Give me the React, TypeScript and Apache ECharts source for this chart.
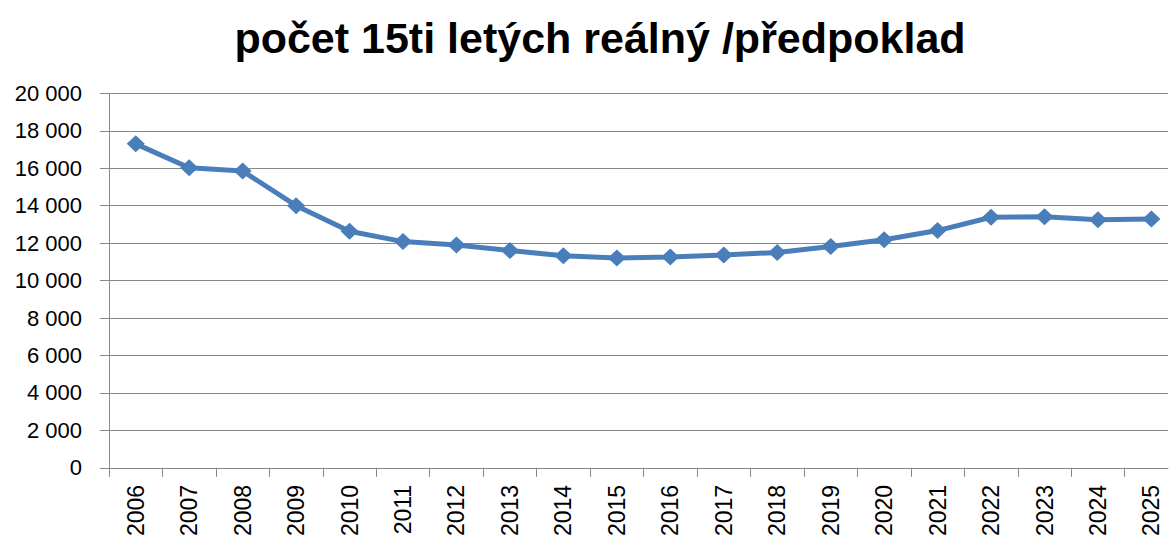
import React, { useEffect, useRef } from "react";
import * as echarts from "echarts";

const titleText = "počet 15ti letých reálný /předpoklad";
const years = ["2006","2007","2008","2009","2010","2011","2012","2013","2014","2015","2016","2017","2018","2019","2020","2021","2022","2023","2024","2025"];
const counts = [17300, 16020, 15850, 14000, 12630, 12080, 11900, 11600, 11330, 11210, 11260, 11370, 11500, 11820, 12180, 12670, 13380, 13410, 13250, 13290];
const yTicks = { min: 0, max: 20000, interval: 2000 };

const fmt = (v: number) => String(v).replace(/\B(?=(\d{3})+(?!\d))/g, " ");

export default function App() {
  const ref = useRef<HTMLDivElement>(null);
  useEffect(() => {
    document.body.style.margin = "0";
    if (!ref.current) return;
    const chart = echarts.init(ref.current, undefined, { renderer: "svg" });
    const idx = years.map((_, i) => i);
    const bounds = years.map((_, i) => i - 0.5);
    chart.setOption({
      animation: false,
      backgroundColor: "#ffffff",
      graphic: [
        {
          type: "text",
          x: 600,
          y: 38,
          style: {
            text: titleText,
            fill: "#000000",
            font: "bold 43px 'Liberation Sans', sans-serif",
            textAlign: "center",
            textVerticalAlign: "middle",
          },
        },
      ],
      grid: { left: 109, top: 93.3, bottom: 70.7, right: 1, containLabel: false },
      xAxis: {
        type: "value",
        min: -0.5,
        max: 19.31,
        axisLine: { show: true, onZero: false, lineStyle: { color: "#878787", width: 1 } },
        axisTick: { show: true, length: 9, lineStyle: { color: "#878787" }, customValues: bounds },
        axisLabel: {
          rotate: 90,
          margin: 17,
          color: "#000000",
          fontSize: 23,
          fontFamily: "'Liberation Sans', sans-serif",
          customValues: idx,
          formatter: (v: number) => years[Math.round(v)] ?? "",
        },
        splitLine: { show: false },
      },
      yAxis: {
        type: "value",
        min: yTicks.min,
        max: yTicks.max,
        interval: yTicks.interval,
        axisLine: { show: true, onZero: false, lineStyle: { color: "#878787", width: 1 } },
        axisTick: { show: true, length: 9, lineStyle: { color: "#878787" } },
        axisLabel: {
          margin: 27,
          color: "#000000",
          fontSize: 22,
          fontFamily: "'Liberation Sans', sans-serif",
          formatter: (v: number) => fmt(v),
        },
        splitLine: { show: true, lineStyle: { color: "#878787", width: 1 } },
      },
      series: [
        {
          type: "line",
          data: counts.map((v, i) => [idx[i], v]),
          symbol: "diamond",
          symbolSize: [18, 17],
          lineStyle: { color: "#4A7EBB", width: 5 },
          itemStyle: { color: "#4A7EBB" },
          z: 3,
        },
      ],
    });
    return () => chart.dispose();
  }, []);
  return <div ref={ref} style={{ width: 1169, height: 539, overflow: "hidden", background: "#fff" }} />;
}
